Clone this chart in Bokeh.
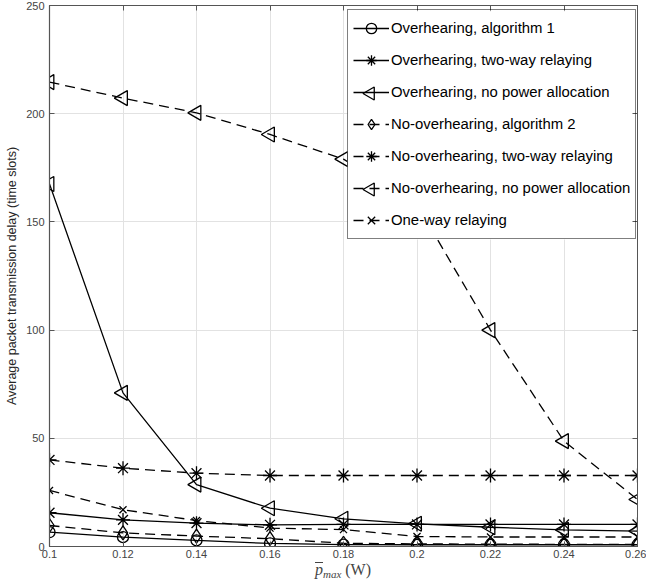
from bokeh.plotting import figure
from bokeh.layouts import column
from bokeh.models import (Range1d, LinearAxis, Legend, LegendItem, Div,
                          FixedTicker, CustomJSTickFormatter)
from bokeh.embed import file_html
from bokeh.resources import INLINE

# Maximum average transmit power (W)
p_max = [0.10, 0.12, 0.14, 0.16, 0.18, 0.20, 0.22, 0.24, 0.26]

# Average packet transmission delay (time slots)
overhear_alg1 = [6.6, 4.3, 2.8, 1.4, 0.9, 0.8, 0.8, 0.8, 0.8]
overhear_twoway = [15.6, 12.3, 10.8, 10.0, 10.2, 10.2, 10.2, 10.2, 10.2]
overhear_nopa = [167.5, 71.0, 28.6, 17.7, 12.8, 10.5, 8.9, 7.7, 7.1]
nooverhear_alg2 = [9.7, 6.3, 4.8, 3.6, 1.5, 1.2, 1.1, 1.0, 1.0]
nooverhear_twoway = [40.0, 36.2, 33.9, 32.8, 32.8, 32.8, 32.8, 32.8, 32.8]
nooverhear_nopa = [214.6, 207.2, 200.4, 190.4, 179.0, 158.0, 100.0, 48.7, 21.7]
one_way = [25.9, 17.0, 12.0, 8.5, 7.8, 4.6, 4.4, 4.4, 4.4]

y_ticks = [0, 50, 100, 150, 200, 250]

series_names = [
    "Overhearing, algorithm 1",
    "Overhearing, two-way relaying",
    "Overhearing, no power allocation",
    "No-overhearing, algorithm 2",
    "No-overhearing, two-way relaying",
    "No-overhearing, no power allocation",
    "One-way relaying",
]
series_values = [overhear_alg1, overhear_twoway, overhear_nopa, nooverhear_alg2,
                 nooverhear_twoway, nooverhear_nopa, one_way]
# (marker, size, angle, dashed); a triangle turned a quarter turn points left
LEFT = 1.5708
styles = [
    ("circle", 11, 0.0, False),
    ("asterisk", 14, 0.0, False),
    ("triangle", 15, LEFT, False),
    ("diamond", 14, 0.0, True),
    ("asterisk", 14, 0.0, True),
    ("triangle", 15, LEFT, True),
    ("x", 10, 0.0, True),
]

AX = "#555555"
TXT = "#444444"

W, H = 646, 562
BL, BR, BT, BB = 49, 9, 5, 16

p = figure(width=W, height=H, output_backend="svg", toolbar_location=None,
           x_range=Range1d(0.1, 0.26), y_range=Range1d(0, 250),
           min_border_left=BL, min_border_right=BR, min_border_top=BT,
           min_border_bottom=BB, background_fill_color="white",
           border_fill_color="white")
p.outline_line_color = AX

for ax in (p.xaxis[0], p.yaxis[0]):
    ax.axis_line_color = AX
    ax.axis_line_width = 1.2
    ax.major_tick_line_color = AX
    ax.major_tick_in = 5
    ax.major_tick_out = 0
    ax.minor_tick_line_color = None
    ax.major_label_text_font = "Liberation Sans"
    ax.major_label_text_font_size = "11px"
    ax.major_label_text_color = TXT

p.xaxis[0].ticker = FixedTicker(ticks=p_max)
p.xaxis[0].major_label_standoff = 3
p.xaxis[0].major_label_overrides = {v: f"{v:g}" for v in p_max}
p.yaxis[0].ticker = FixedTicker(ticks=y_ticks)
p.yaxis[0].major_label_standoff = 5
p.yaxis[0].axis_label = "Average packet transmission delay (time slots)"
p.yaxis[0].axis_label_text_font = "Liberation Sans"
p.yaxis[0].axis_label_text_font_size = "12.5px"
p.yaxis[0].axis_label_text_font_style = "normal"
p.yaxis[0].axis_label_text_color = "#262626"
p.yaxis[0].axis_label_standoff = 4

# box ticks on top and right
blank = CustomJSTickFormatter(code="return ''")
top = LinearAxis(ticker=FixedTicker(ticks=p_max), formatter=blank,
                 major_tick_in=5, major_tick_out=0, minor_tick_line_color=None,
                 axis_line_color=AX, major_tick_line_color=AX, major_label_standoff=0)
right = LinearAxis(ticker=FixedTicker(ticks=y_ticks), formatter=blank,
                   major_tick_in=5, major_tick_out=0, minor_tick_line_color=None,
                   axis_line_color=AX, major_tick_line_color=AX, major_label_standoff=0)
p.add_layout(top, "above")
p.add_layout(right, "right")

p.xgrid.ticker = FixedTicker(ticks=p_max)
p.ygrid.ticker = FixedTicker(ticks=y_ticks)
for g in (p.xgrid[0], p.ygrid[0]):
    g.grid_line_color = "#e2e2e2"
    g.grid_line_width = 1

items = []
for name, vals, (marker, size, angle, dashed) in zip(series_names, series_values, styles):
    dash = "10 6" if dashed else "solid"
    ln = p.line(p_max, vals, line_color="black", line_width=1.3, line_dash=dash)
    sc = p.scatter(p_max, vals, marker=marker, size=size, angle=angle,
                   line_color="black", line_width=1.3, fill_color=None)
    # legend keys ignore marker angle, so left triangles are added separately
    rends = [ln] if angle else [ln, sc]
    items.append(LegendItem(label=name, renderers=rends))

# legend geometry (screen px, relative to the frame's lower-left corner)
LEG_X, LEG_Y = 298, 307
PAD, ROW_H, ROW_GAP, GLYPH_W = 5, 26, 6, 36

frame_w = W - BL - BR
frame_h = H - BT - BB
xr, yr = p.x_range, p.y_range


def to_x(px):
    return xr.start + px / frame_w * (xr.end - xr.start)


def to_y(py):
    return yr.start + py / frame_h * (yr.end - yr.start)


n_rows = len(items)
leg_top = LEG_Y + n_rows * ROW_H + (n_rows - 1) * ROW_GAP + 2 * PAD

# white backing for the legend box (the legend itself is drawn transparent)
p.quad(left=[to_x(LEG_X)], right=[xr.end], bottom=[to_y(LEG_Y)], top=[to_y(leg_top)],
       fill_color="white", line_color=None)

# left-pointing triangle keys at the legend key centres
key_cx = LEG_X + PAD + GLYPH_W / 2
kx, ky = [], []
for i, (marker, size, angle, dashed) in enumerate(styles):
    if not angle:
        continue
    cy = leg_top - PAD - i * (ROW_H + ROW_GAP) - ROW_H / 2
    kx.append(to_x(key_cx))
    ky.append(to_y(cy))
p.scatter(kx, ky, marker="triangle", size=13, angle=LEFT,
          line_color="black", line_width=1.3, fill_color="white")

legend = Legend(items=items, location=(LEG_X, LEG_Y), orientation="vertical",
                label_text_font="Liberation Sans", label_text_font_size="14.9px",
                label_text_color="black", glyph_width=GLYPH_W, glyph_height=ROW_H,
                label_height=ROW_H, spacing=ROW_GAP, padding=PAD, margin=0,
                label_standoff=2, border_line_color="black", border_line_width=1,
                background_fill_alpha=0.0)
p.add_layout(legend, "center")

xlabel = Div(
    text=('<div style="font-family:\'Liberation Serif\',serif; font-size:16px; '
          'color:#444444; line-height:12px; text-align:center; width:606px; '
          'margin-left:40px; white-space:nowrap;">'
          '<i style="display:inline-block; border-top:1px solid #444444; '
          'line-height:11px; padding-top:1px;">p</i>'
          '<span style="font-size:11px; position:relative; top:3px;">'
          '<i>max</i></span>&nbsp;(W)</div>'),
    width=646, height=24, margin=0)

open("out.html", "w").write(file_html(column(p, xlabel, spacing=0), INLINE))
